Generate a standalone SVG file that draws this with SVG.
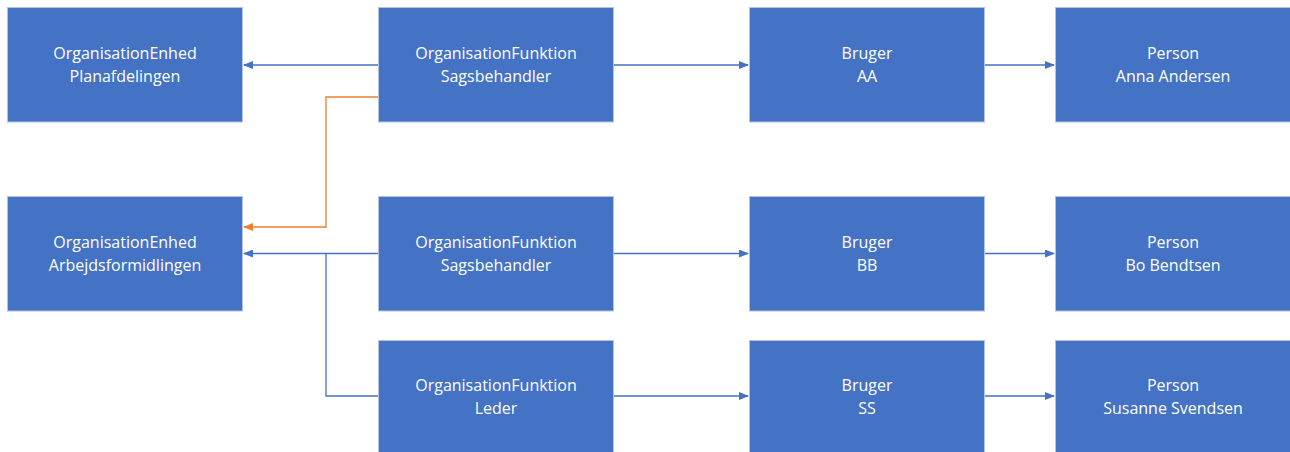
<svg xmlns="http://www.w3.org/2000/svg" width="1290" height="452" viewBox="0 0 1290 452">
<style>
.box{fill:#4472C4;stroke:#B4C3E0;stroke-width:1}
.t{font-family:"Open Sans","Liberation Sans",sans-serif;font-size:16px;fill:#FFFFFF;text-anchor:middle}
.c{fill:none;stroke:#4472C4;stroke-width:1.3}
.o{fill:none;stroke:#ED7D31;stroke-width:1.3}
</style>
<defs>
<marker id="ab" markerWidth="10" markerHeight="8" refX="9" refY="4" orient="auto" markerUnits="userSpaceOnUse"><path d="M0,0 L10,4 L0,8 Z" fill="#4472C4"/></marker>
<marker id="ao" markerWidth="10" markerHeight="8" refX="9" refY="4" orient="auto" markerUnits="userSpaceOnUse"><path d="M0,0 L10,4 L0,8 Z" fill="#ED7D31"/></marker>
</defs>
<rect width="1290" height="452" fill="#FFFFFF"/>
<g id="connectors">
<path class="c" d="M378,65 H244" marker-end="url(#ab)"/>
<path class="c" d="M614,65 H748" marker-end="url(#ab)"/>
<path class="c" d="M985,65 H1054" marker-end="url(#ab)"/>
<path class="o" d="M378,97 H326 V227 H244" marker-end="url(#ao)"/>
<path class="c" d="M378,253.5 H244" marker-end="url(#ab)"/>
<path class="c" d="M378,396 H326 V253.5"/>
<path class="c" d="M614,253.5 H748" marker-end="url(#ab)"/>
<path class="c" d="M985,253.5 H1054" marker-end="url(#ab)"/>
<path class="c" d="M614,396 H748" marker-end="url(#ab)"/>
<path class="c" d="M985,396 H1054" marker-end="url(#ab)"/>
</g>
<g id="enhed-plan"><rect class="box" x="7.5" y="7.5" width="235" height="114.5"/><text class="t" x="125" y="58.5">OrganisationEnhed</text><text class="t" x="125" y="81.5">Planafdelingen</text></g>
<g id="funktion-1"><rect class="box" x="378.5" y="7.5" width="235" height="114.5"/><text class="t" x="496" y="58.5">OrganisationFunktion</text><text class="t" x="496" y="81.5">Sagsbehandler</text></g>
<g id="bruger-aa"><rect class="box" x="749.5" y="7.5" width="235" height="114.5"/><text class="t" x="867" y="58.5">Bruger</text><text class="t" x="867" y="81.5">AA</text></g>
<g id="person-anna"><rect class="box" x="1055.5" y="7.5" width="235" height="114.5"/><text class="t" x="1173" y="58.5">Person</text><text class="t" x="1173" y="81.5">Anna Andersen</text></g>
<g id="enhed-arb"><rect class="box" x="7.5" y="196.5" width="235" height="114.5"/><text class="t" x="125" y="247.5">OrganisationEnhed</text><text class="t" x="125" y="270.5">Arbejdsformidlingen</text></g>
<g id="funktion-2"><rect class="box" x="378.5" y="196.5" width="235" height="114.5"/><text class="t" x="496" y="247.5">OrganisationFunktion</text><text class="t" x="496" y="270.5">Sagsbehandler</text></g>
<g id="bruger-bb"><rect class="box" x="749.5" y="196.5" width="235" height="114.5"/><text class="t" x="867" y="247.5">Bruger</text><text class="t" x="867" y="270.5">BB</text></g>
<g id="person-bo"><rect class="box" x="1055.5" y="196.5" width="235" height="114.5"/><text class="t" x="1173" y="247.5">Person</text><text class="t" x="1173" y="270.5">Bo Bendtsen</text></g>
<g id="funktion-3"><rect class="box" x="378.5" y="340.5" width="235" height="114.5"/><text class="t" x="496" y="391">OrganisationFunktion</text><text class="t" x="496" y="414">Leder</text></g>
<g id="bruger-ss"><rect class="box" x="749.5" y="340.5" width="235" height="114.5"/><text class="t" x="867" y="391">Bruger</text><text class="t" x="867" y="414">SS</text></g>
<g id="person-susanne"><rect class="box" x="1055.5" y="340.5" width="235" height="114.5"/><text class="t" x="1173" y="391">Person</text><text class="t" x="1173" y="414">Susanne Svendsen</text></g>
</svg>
